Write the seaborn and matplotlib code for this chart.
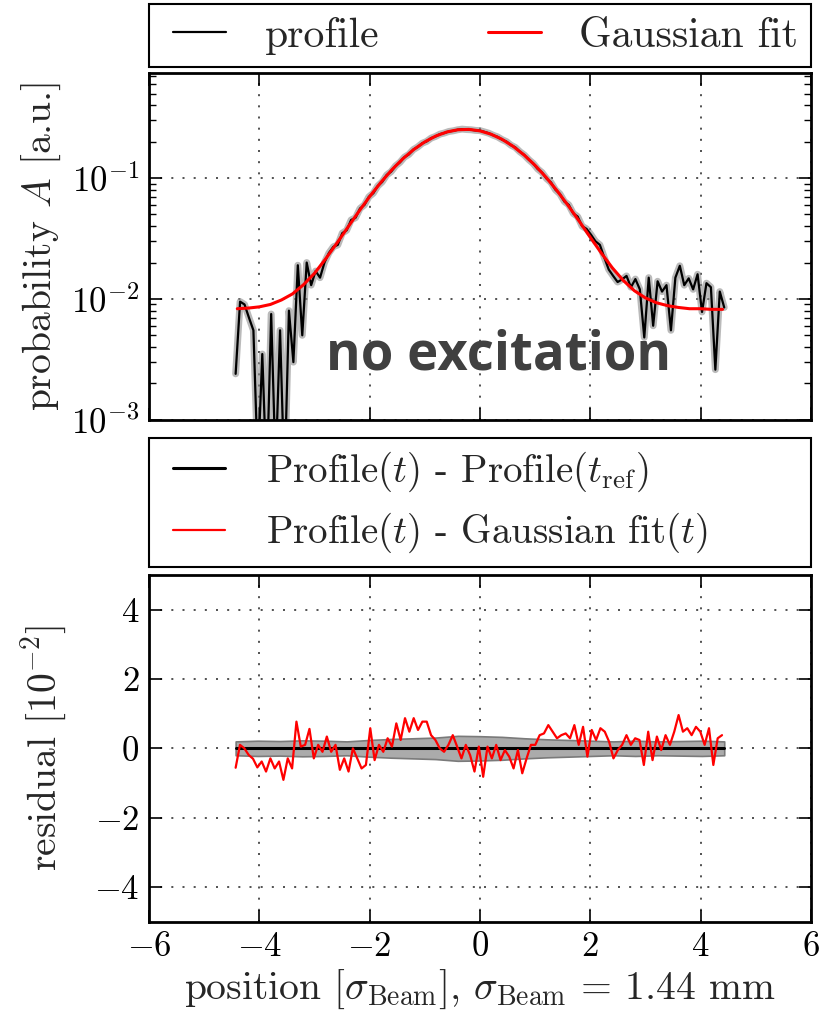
# beam profile with no excitation: log profile + Gaussian fit on top, residuals below
import numpy as np
import pandas as pd

import matplotlib
matplotlib.use("Agg")

import matplotlib.pyplot as plt
from matplotlib.legend_handler import HandlerLine2D
from matplotlib.lines import Line2D
import seaborn as sns

# ---------------- data ----------------

# measured profile, probability A in units of 1e-3 a.u. (sampled from -4.43 to 4.43)
profile_milli = [
    2.4, 9.5, 9.0, 7.0, 5.5, 0.4, 3.5, 0.3, 7.5, 0.4,
    5.5, 0.3, 8.0, 3.0, 19.0, 5.0, 20.0, 13.0, 17.0, 15.0,
    20.0, 24, 27, 28, 35, 37, 45, 47, 56, 60,
    70, 75, 86, 93, 106, 113, 126, 135, 149, 157,
    172, 181, 194, 201, 214, 221, 231, 236, 243, 246,
    251, 254, 252, 251, 248, 247, 241, 235, 226, 219,
    208, 200, 187, 179, 165, 155, 142, 132, 119, 111,
    99, 92, 80, 74, 64, 60, 51, 48, 40, 38,
    34, 30, 28, 22, 17.5, 15.5, 13.8, 14.5, 15.5, 12.5,
    14.6, 12.0, 4.8, 15.0, 6.0, 14.0, 11.5, 13.0, 5.5, 15.0,
    18.8, 13.0, 14.8, 12.0, 16.0, 7.8, 13.5, 12.5, 2.6, 11.5,
    8.5,
]

# Gaussian fit, read every 0.2 sigma from -4.4 to 4.4
fit_vals = [
    0.0083, 0.0084, 0.0086, 0.0090, 0.0098, 0.0110, 0.0131, 0.0163, 0.0214, 0.0287,
    0.0389, 0.0526, 0.0703, 0.0917, 0.1167, 0.1442, 0.1723, 0.1993, 0.2228, 0.2407,
    0.2510, 0.2528, 0.2458, 0.2307, 0.2093, 0.1834, 0.1554, 0.1274, 0.1014, 0.0784,
    0.0592, 0.0440, 0.0324, 0.0240, 0.0181, 0.0142, 0.0117, 0.0102, 0.0093, 0.0088,
    0.0085, 0.0083, 0.0083, 0.0082, 0.0082,
]

# Profile(t) - Gaussian fit(t), units of 1e-2
resid_fit = [
    -0.56, 0.10, 0.00, -0.19, -0.30, -0.55, -0.38, -0.67, -0.29, -0.58,
    -0.38, -0.91, -0.29, -0.58, 0.77, 0.05, 0.10, 0.56, -0.29, 0.10,
    -0.10, 0.34, -0.10, 0.10, -0.62, -0.29, -0.67, 0.00, -0.29, -0.58,
    -0.48, 0.58, -0.34, 0.10, -0.10, 0.29, 0.05, 0.72, 0.24, 0.87,
    0.48, 0.87, 0.53, 0.77, 0.77, 0.38, 0.24, 0.00, -0.10, 0.10,
    0.38, 0.05, -0.29, 0.10, -0.20, -0.67, 0.05, -0.82, 0.05, -0.29,
    0.10, -0.34, -0.05, -0.24, -0.58, -0.05, -0.72, -0.29, 0.10, 0.10,
    0.38, 0.43, 0.67, 0.48, 0.29, 0.38, 0.43, 0.29, 0.67, 0.10,
    0.62, -0.24, 0.53, 0.24, 0.58, 0.48, 0.19, -0.29, -0.05, 0.10,
    0.38, 0.10, 0.29, 0.24, -0.48, 0.48, -0.34, 0.34, -0.05, 0.38,
    0.10, 0.48, 0.96, 0.48, 0.58, 0.38, 0.62, 0.48, 0.10, 0.58,
    -0.48, 0.29, 0.38,
]

# Profile(t) - Profile(t_ref): flat zero with a grey spread (units of 1e-2)
resid_ref = [0.0] * 23
resid_ref_spread = [
    0.20, 0.22, 0.21, 0.23, 0.22, 0.20, 0.24, 0.27, 0.29, 0.31,
    0.36, 0.35, 0.33, 0.29, 0.26, 0.24, 0.22, 0.20, 0.22, 0.20,
    0.21, 0.22, 0.20,
]

x_ticks = [-6, -4, -2, 0, 2, 4, 6]
resid_ticks = [-4, -2, 0, 2, 4]

# sampling grids (positions along the beam, sigma units)
x_profile = np.linspace(-4.43, 4.43, len(profile_milli))
x_fit = np.linspace(-4.4, 4.4, len(fit_vals))
x_resid = np.linspace(-4.43, 4.39, len(resid_fit))
x_ref = np.linspace(-4.43, 4.43, len(resid_ref))


# ---------------- style ----------------
sns.set_theme(style="ticks")
plt.rcParams["font.family"] = ["cmr10", "DejaVu Serif"]
plt.rcParams["mathtext.fontset"] = "cm"
plt.rcParams["axes.formatter.use_mathtext"] = True
plt.rcParams["axes.unicode_minus"] = True
plt.rcParams["font.size"] = 26

GRID_KW = dict(color="#333333", linestyle=(0, (1.2, 5.5)), linewidth=1.2)
LABEL_FS = 28.5
TICK_FS = 25


def style_axes(ax):
    # classic look: thick black frame, inward ticks on every side
    for sp in ax.spines.values():
        sp.set_color("black")
        sp.set_linewidth(2)
    ax.tick_params(which="both", direction="in", top=True, right=True,
                   colors="black", labelsize=TICK_FS)
    ax.tick_params(which="major", length=9, width=1.2, pad=7)
    ax.tick_params(which="minor", length=5, width=1)
    ax.set_xlim(-6, 6)
    ax.set_xticks(x_ticks)
    ax.grid(True, which="major", **GRID_KW)
    ax.grid(False, which="minor")


def boxed_legend(ax, handles, labels, ncol, anchor, fs, xpad, **kw):
    # legend in a square black box sitting on top of the axes, handles inset a little
    leg = ax.legend(handles, labels, loc="lower left", ncol=ncol, mode="expand",
                    bbox_to_anchor=anchor, borderaxespad=0, fancybox=False,
                    edgecolor="black", framealpha=1, fontsize=fs,
                    handler_map={Line2D: HandlerLine2D(xpad=xpad)}, **kw)
    leg.get_frame().set_linewidth(1.5)
    return leg


fig = plt.figure(figsize=(8.19, 10.14), dpi=100)
ax_top = fig.add_axes([0.182, 0.586, 0.808, 0.342])
ax_bot = fig.add_axes([0.182, 0.091, 0.808, 0.342])

# ---------------- top: profile on log scale ----------------
df_prof = pd.DataFrame({"x": x_profile, "A": np.array(profile_milli) * 1e-3})
df_fit = pd.DataFrame({"x": x_fit, "A": fit_vals})

# soft grey underlay gives the blurred uncertainty look around the profile
sns.lineplot(data=df_prof, x="x", y="A", ax=ax_top, color="#8c8c8c",
             linewidth=5, alpha=0.6, legend=False)
sns.lineplot(data=df_prof, x="x", y="A", ax=ax_top, color="black",
             linewidth=1.6, label="profile")
sns.lineplot(data=df_fit, x="x", y="A", ax=ax_top, color="red",
             linewidth=2.2, label="Gaussian fit")

ax_top.set_yscale("log")
ax_top.set_ylim(1e-3, 0.74)
style_axes(ax_top)
ax_top.tick_params(labelbottom=False)
ax_top.set_xlabel("")
ax_top.set_ylabel("probability $A$ [a.u.]", fontsize=LABEL_FS, labelpad=6)

ax_top.text(0.528, 0.185, "no excitation", transform=ax_top.transAxes,
            ha="center", va="center", fontsize=38, fontweight="bold",
            color="#404040", family=["Open Sans", "DejaVu Sans"])

handles, labels = ax_top.get_legend_handles_labels()
boxed_legend(ax_top, handles, labels, 2, (0, 1.017, 1, 0.176), fs=30, xpad=0.28,
             handlelength=1.55, handletextpad=0.93, borderpad=0.3)

# ---------------- bottom: residuals ----------------
df_ref = pd.DataFrame({"x": x_ref, "r": resid_ref, "s": resid_ref_spread})
df_res = pd.DataFrame({"x": x_resid, "r": resid_fit})

ax_bot.fill_between(df_ref["x"], df_ref["r"] - df_ref["s"], df_ref["r"] + df_ref["s"],
                    color="#ababab", edgecolor="#7a7a7a", linewidth=1.2, zorder=2)
sns.lineplot(data=df_ref, x="x", y="r", ax=ax_bot, color="black", linewidth=2.2,
             label=r"Profile($t$) - Profile($t_{\mathrm{ref}}$)", zorder=3)
sns.lineplot(data=df_res, x="x", y="r", ax=ax_bot, color="red", linewidth=1.6,
             label=r"Profile($t$) - Gaussian fit($t$)", zorder=4)

ax_bot.set_ylim(-5, 5)
ax_bot.set_yticks(resid_ticks)
style_axes(ax_bot)
ax_bot.set_ylabel(r"residual [$10^{-2}$]", fontsize=LABEL_FS, labelpad=18)
ax_bot.set_xlabel(r"position [$\sigma_{\mathrm{Beam}}$], $\sigma_{\mathrm{Beam}}$ = 1.44 mm",
                  fontsize=LABEL_FS, labelpad=3)

handles, labels = ax_bot.get_legend_handles_labels()
boxed_legend(ax_bot, handles, labels, 1, (0, 1.023, 1, 0.357), fs=28, xpad=0.32,
             handlelength=1.66, handletextpad=1.05, borderpad=0.3, labelspacing=0.45)

fig.savefig("out.png", dpi=100)
plt.close(fig)
